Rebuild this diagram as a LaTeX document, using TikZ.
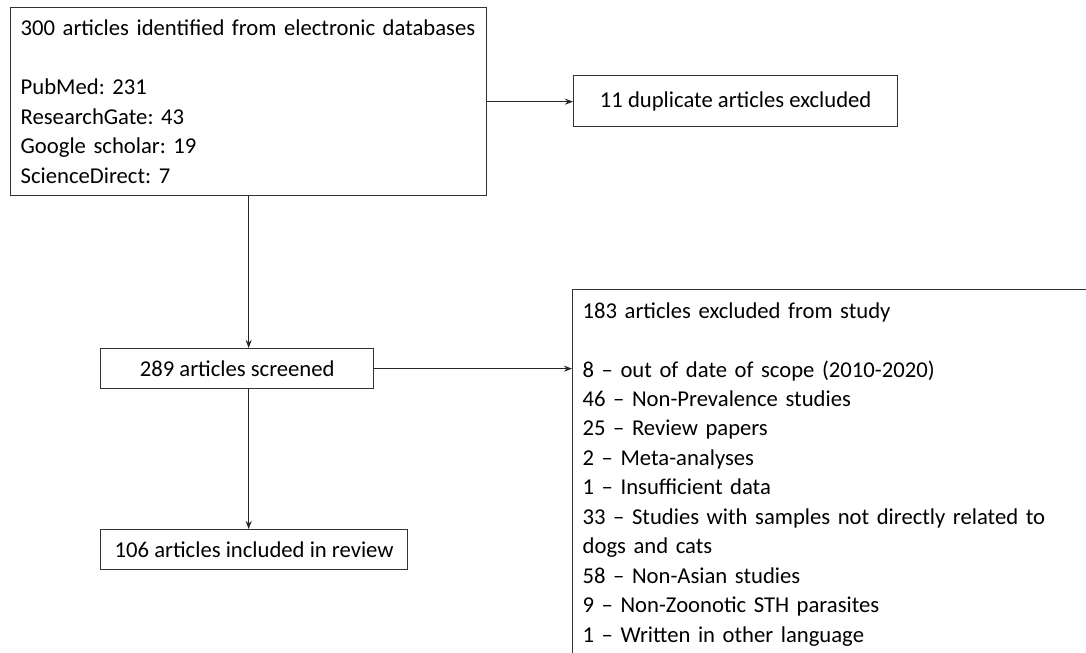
\documentclass[tikz,border=0pt]{standalone}
\usepackage{fontspec}
\setmainfont{Carlito}
\usetikzlibrary{arrows.meta}
\begin{document}
\frenchspacing
\begin{tikzpicture}[x=0.75pt,y=-0.75pt,
  box/.style={draw=black!80, line width=1pt, anchor=north west, inner sep=0pt, font=\fontsize{17}{22.1}\selectfont},
  listbox/.style={box, align=left, inner xsep=7.5pt, inner ysep=7pt},
  arr/.style={draw=black!85, line width=0.9pt, -{Stealth[length=6pt,width=4.5pt]}}]
\useasboundingbox (0,0) rectangle (1086,653);
\clip (0,0) rectangle (1086,653);
\fill[white] (0,0) rectangle (1086,653);
\node[listbox, text width=342pt, minimum height=141pt] (b1) at (10,7)
  {300 articles identified from electronic databases\\ \mbox{}\\ PubMed: 231\\ ResearchGate: 43\\ Google scholar: 19\\ ScienceDirect: 7};
\node[box, minimum width=243pt, minimum height=38.25pt] (b2) at (573,75) {11 duplicate articles excluded};
\node[box, minimum width=204.75pt, minimum height=30pt] (b3) at (100,348) {289 articles screened};
\node[box, minimum width=230.25pt, minimum height=30pt] (b5) at (100,529) {106 articles included in review};
\node[listbox, text width=400pt, inner ysep=9.5pt] (b4) at (572,289)
  {183 articles excluded from study\\ \mbox{}\\
   8 -- out of date of scope (2010-2020)\\
   46 -- Non-Prevalence studies\\
   25 -- Review papers\\
   2 -- Meta-analyses\\
   1 -- Insufficient data\\
   33 -- Studies with samples not directly related to\\
   dogs and cats\\
   58 -- Non-Asian studies\\
   9 -- Non-Zoonotic STH parasites\\
   1 -- Written in other language\\ \mbox{}};
\draw[arr] (b1.east) -- (b1.east -| b2.west);
\draw[arr] (b1.south) -- (b1.south |- b3.north);
\draw[arr] (b3.east) -- (b3.east -| b4.west);
\draw[arr] (b1.south |- b3.south) -- (b1.south |- b5.north);
\end{tikzpicture}
\end{document}
